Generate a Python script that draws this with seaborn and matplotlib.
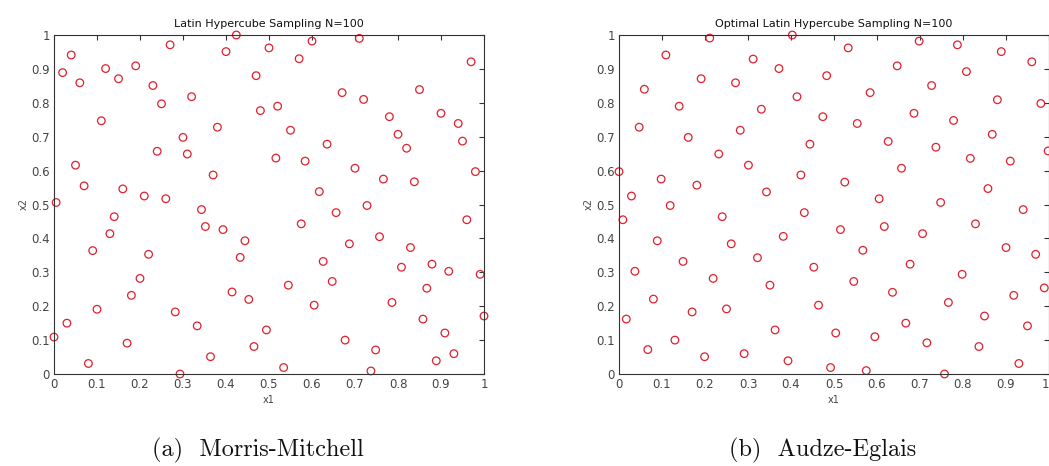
import matplotlib
matplotlib.use("Agg")
import matplotlib.pyplot as plt
import numpy as np
import pandas as pd
import seaborn as sns

# Morris-Mitchell optimised Latin hypercube design (N=100)
mm_x1 = [0.02, 0.04, 0.06, 0.12, 0.19, 0.15, 0.27, 0.23, 0.25, 0.32,
         0.11, 0.30, 0.38, 0.24, 0.31, 0.05, 0.37, 0.07, 0.16, 0.21,
         0.26, 0.005, 0.40, 0.424, 0.47, 0.48,
         0.50, 0.60, 0.71, 0.57, 0.97, 0.67, 0.72, 0.85, 0.52,
         0.78, 0.90, 0.94, 0.55, 0.80, 0.635, 0.82, 0.95, 0.516, 0.584,
         0.70, 0.98, 0.766, 0.838, 0.617,
         0.14, 0.13, 0.09, 0.22, 0.20, 0.18, 0.10, 0.03, 0.0, 0.17,
         0.08, 0.282, 0.293, 0.333, 0.364, 0.343, 0.352, 0.393, 0.444, 0.433,
         0.414, 0.453, 0.494, 0.465,
         0.728, 0.656, 0.575, 0.960, 0.757, 0.687, 0.829, 0.626, 0.808, 0.879,
         0.918, 0.991, 0.647, 0.545, 0.867, 0.605, 0.786, 0.858, 1.0,
         0.677, 0.909, 0.748, 0.930, 0.889, 0.534, 0.737]
mm_x2 = [0.889, 0.941, 0.859, 0.901, 0.909, 0.871, 0.971, 0.851, 0.797, 0.818,
         0.747, 0.698, 0.728, 0.657, 0.649, 0.616, 0.587, 0.555, 0.546, 0.525,
         0.517, 0.506, 0.951, 1.0, 0.880, 0.777,
         0.962, 0.982, 0.990, 0.930, 0.921, 0.830, 0.810, 0.839, 0.790,
         0.759, 0.769, 0.739, 0.719, 0.707, 0.678, 0.666, 0.687, 0.637, 0.628,
         0.607, 0.597, 0.575, 0.567, 0.538,
         0.464, 0.414, 0.364, 0.353, 0.282, 0.232, 0.191, 0.150, 0.109, 0.091,
         0.031, 0.183, 0.0, 0.142, 0.051, 0.485, 0.435, 0.426, 0.393, 0.344,
         0.242, 0.220, 0.130, 0.081,
         0.497, 0.476, 0.443, 0.455, 0.405, 0.384, 0.373, 0.332, 0.315, 0.324,
         0.303, 0.294, 0.273, 0.262, 0.253, 0.203, 0.211, 0.162, 0.171,
         0.100, 0.121, 0.071, 0.060, 0.039, 0.019, 0.009]

# Audze-Eglais optimised Latin hypercube design (N=100)
ae_x1 = [0.0, 0.029, 0.047, 0.059, 0.109, 0.098, 0.140, 0.161, 0.191, 0.211,
         0.181, 0.232, 0.271, 0.282, 0.312, 0.331, 0.301, 0.343, 0.372, 0.403,
         0.414, 0.423, 0.444, 0.474, 0.483,
         0.533, 0.698, 0.787, 0.889, 0.960, 0.647, 0.808, 0.584, 0.727, 0.880,
         0.981, 0.554, 0.686, 0.778, 0.626, 0.868, 0.737, 0.817, 0.910, 0.998,
         0.657, 0.525, 0.858, 0.605, 0.748,
         0.119, 0.009, 0.089, 0.240, 0.261, 0.149, 0.037, 0.219, 0.080, 0.170,
         0.250, 0.017, 0.130, 0.067, 0.199, 0.291, 0.322, 0.382, 0.431, 0.351,
         0.453, 0.464, 0.363, 0.393,
         0.940, 0.515, 0.617, 0.706, 0.829, 0.567, 0.900, 0.969, 0.677, 0.546,
         0.798, 0.636, 0.766, 0.918, 0.989, 0.850, 0.667, 0.504, 0.595, 0.950,
         0.716, 0.837, 0.492, 0.575, 0.757, 0.930]
ae_x2 = [0.597, 0.525, 0.728, 0.840, 0.941, 0.575, 0.790, 0.698, 0.871, 0.991,
         0.557, 0.649, 0.859, 0.719, 0.929, 0.781, 0.616, 0.537, 0.901, 1.0,
         0.818, 0.587, 0.678, 0.759, 0.880,
         0.962, 0.982, 0.971, 0.951, 0.921, 0.909, 0.892, 0.830, 0.851, 0.809,
         0.798, 0.739, 0.769, 0.748, 0.686, 0.707, 0.669, 0.636, 0.628, 0.658,
         0.607, 0.566, 0.547, 0.517, 0.506,
         0.497, 0.455, 0.393, 0.464, 0.384, 0.332, 0.303, 0.282, 0.221, 0.183,
         0.192, 0.162, 0.100, 0.072, 0.051, 0.060, 0.343, 0.406, 0.476, 0.262,
         0.315, 0.203, 0.130, 0.039,
         0.485, 0.426, 0.435, 0.414, 0.443, 0.365, 0.373, 0.353, 0.324, 0.273,
         0.294, 0.241, 0.211, 0.232, 0.254, 0.171, 0.150, 0.121, 0.110, 0.142,
         0.092, 0.081, 0.019, 0.010, 0.0, 0.031]

panel_titles = ["Latin Hypercube Sampling N=100",
                "Optimal Latin Hypercube Sampling N=100"]
captions = ["(a)  Morris-Mitchell", "(b)  Audze-Eglais"]
tick_values = [0, 0.1, 0.2, 0.3, 0.4, 0.5, 0.6, 0.7, 0.8, 0.9, 1]
tick_labels = ["0", "0.1", "0.2", "0.3", "0.4", "0.5", "0.6", "0.7", "0.8", "0.9", "1"]

sns.set_style("white")

W, H = 1049, 466
fig = plt.figure(figsize=(W / 100, H / 100), dpi=100)

designs = [pd.DataFrame({"x1": mm_x1, "x2": mm_x2}),
           pd.DataFrame({"x1": ae_x1, "x2": ae_x2})]
lefts = [54, 619]
marker_red = "#e0202c"
text_grey = "#444444"

for i, (df, left) in enumerate(zip(designs, lefts)):
    ax = fig.add_axes([left / W, (H - 374) / H, 430 / W, 339 / H])
    sns.scatterplot(data=df, x="x1", y="x2", ax=ax, marker="o", s=30,
                    facecolor="none", edgecolor=marker_red, linewidth=0.9,
                    clip_on=False, legend=False)
    ax.set_xlim(0, 1)
    ax.set_ylim(0, 1)
    ax.set_xticks(tick_values)
    ax.set_xticklabels(tick_labels)
    ax.set_yticks(tick_values)
    ax.set_yticklabels(tick_labels)
    ax.tick_params(direction="in", length=3.5, width=0.8, top=True, right=True,
                   labelsize=8.5, colors="#333333", labelcolor=text_grey, pad=3)
    if i == 1:
        # keep the last x tick label inside the figure edge
        ax.get_xticklabels()[-1].set_horizontalalignment("right")
    for sp in ax.spines.values():
        sp.set_visible(True)
        sp.set_color("#333333")
        sp.set_linewidth(0.8)
    ax.set_xlabel("x1", fontsize=7, color=text_grey, labelpad=3)
    ax.set_ylabel("x2", fontsize=7, color=text_grey, labelpad=2)
    ax.set_title(panel_titles[i], fontsize=8, color="#111111", pad=6)
    fig.text((left + 204) / W, 1 - 450 / H, captions[i], family="cmr10",
             fontsize=17.5, ha="center", va="center", color="#111111")

fig.savefig("out.png", dpi=100)
